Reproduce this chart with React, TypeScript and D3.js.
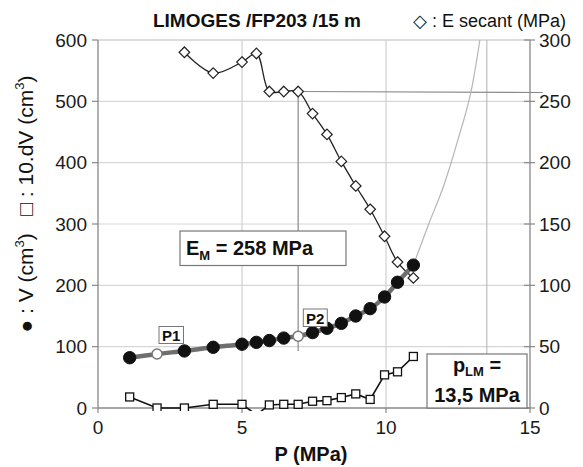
import React from "react";
import * as d3 from "d3";

const P = [1.1, 2.05, 3.0, 4.0, 5.0, 5.5, 5.95, 6.45, 6.95, 7.45, 7.95, 8.45, 8.95, 9.45, 9.95, 10.4, 10.95];
const V = [82, 88, 93, 99, 104, 107, 110, 114, 117, 123, 130, 138, 150, 162, 181, 205, 233];
const DV10 = [18, 0, 0, 6, 6, -11, 5, 6, 6, 11, 12, 17, 23, 14, 54, 59, 84];
const P_E = [3.0, 4.0, 5.0, 5.5, 5.95, 6.45, 6.95, 7.45, 7.95, 8.45, 8.95, 9.45, 9.95, 10.4, 10.95];
const E_SEC = [290, 273, 282, 289, 258, 258, 258, 240, 223, 201, 181, 162, 140, 119, 106];
const FIT_P = [10.95, 11.5, 12.0, 12.5, 13.0, 13.26];
const FIT_V = [233, 302, 362, 438, 527, 600];
const HOLLOW_P = [2.05, 6.95];
const X_TICKS = [0, 5, 10, 15];
const YL_TICKS = [0, 100, 200, 300, 400, 500, 600];
const YR_TICKS = [0, 50, 100, 150, 200, 250, 300];
const E_M = 258;
const P_EM = 6.95;
const P_LM = 13.5;

const W = 583;
const H = 467;
const FONT = "'Liberation Sans', Arial, sans-serif";

export default function App() {
  const x = d3.scaleLinear().domain([0, 15]).range([98, 530]);
  const yL = d3.scaleLinear().domain([0, 600]).range([408, 40]);
  const yR = d3.scaleLinear().domain([0, 300]).range([408, 40]);

  const vPts = P.map((p, i) => [p, V[i]] as [number, number]);
  const dvPts = P.map((p, i) => [p, DV10[i]] as [number, number]);
  const ePts = P_E.map((p, i) => [p, E_SEC[i]] as [number, number]);
  const fitPts = FIT_P.map((p, i) => [p, FIT_V[i]] as [number, number]);

  const lineL = d3.line<[number, number]>().x((d) => x(d[0])).y((d) => yL(d[1]));
  const vLine = d3.line<[number, number]>().x((d) => x(d[0])).y((d) => yL(d[1])).curve(d3.curveMonotoneX);
  const fitLine = d3.line<[number, number]>().x((d) => x(d[0])).y((d) => yL(d[1])).curve(d3.curveMonotoneX);
  const eLine = d3.line<[number, number]>().x((d) => x(d[0])).y((d) => yR(d[1])).curve(d3.curveCatmullRom.alpha(0.5));

  const x0 = x(0), x1 = x(15), y0 = yL(0), y1 = yL(600);

  return (
    <svg width={W} height={H} style={{ position: "absolute", left: 0, top: 0, background: "#fff" }} fontFamily={FONT}>
      <defs>
        <clipPath id="plot">
          <rect x={x0} y={y1 - 1} width={x1 - x0 + 20} height={y0 - y1 + 4} />
        </clipPath>
      </defs>
      <rect width={W} height={H} fill="#fff" />
      {/* gridlines */}
      {YL_TICKS.filter((t) => t > 0).map((t) => (
        <line key={"gy" + t} x1={x0} x2={x1} y1={yL(t)} y2={yL(t)} stroke={t === 600 ? "#bbb" : "#d6d6d6"} strokeWidth={1.2} />
      ))}
      {X_TICKS.filter((t) => t > 0 && t < 15).map((t) => (
        <line key={"gx" + t} x1={x(t)} x2={x(t)} y1={y0} y2={y1} stroke="#d0d0d0" strokeWidth={1.2} />
      ))}
      {/* pLM line */}
      <line x1={x(P_LM)} x2={x(P_LM)} y1={y0} y2={y1} stroke="#bdbdbd" strokeWidth={1.2} />
      {/* EM reference lines */}
      <line x1={x(P_EM)} x2={x(P_EM)} y1={yR(E_M)} y2={yL(93)} stroke="#8a8a8a" strokeWidth={1.2} />
      <line x1={x(P_EM)} x2={x(15.45)} y1={yR(E_M)} y2={yR(E_M) + 1} stroke="#8a8a8a" strokeWidth={1.2} />

      {/* axes */}
      <line x1={x0} x2={x0} y1={y1} y2={y0} stroke="#888" strokeWidth={1.3} />
      <line x1={x1} x2={x1} y1={y1} y2={y0} stroke="#888" strokeWidth={1.3} />
      <line x1={x0} x2={x1} y1={y0} y2={y0} stroke="#888" strokeWidth={1.3} />
      {YL_TICKS.map((t) => (
        <g key={"yl" + t}>
          <line x1={x0 - 6} x2={x0} y1={yL(t)} y2={yL(t)} stroke="#888" strokeWidth={1.2} />
          <text x={x0 - 11} y={yL(t)} dy="0.35em" textAnchor="end" fontSize={19} fill="#1a1a1a">{t}</text>
        </g>
      ))}
      {YR_TICKS.map((t) => (
        <g key={"yr" + t}>
          <line x1={x1 - 6} x2={x1 + 5} y1={yR(t)} y2={yR(t)} stroke="#888" strokeWidth={1.2} />
          <text x={x1 + 9} y={yR(t)} dy="0.35em" textAnchor="start" fontSize={19} fill="#1a1a1a">{t}</text>
        </g>
      ))}
      {X_TICKS.map((t) => (
        <g key={"xt" + t}>
          <line x1={x(t)} x2={x(t)} y1={y0} y2={y0 + 5} stroke="#888" strokeWidth={1.2} />
          <text x={x(t)} y={434} textAnchor="middle" fontSize={19} fill="#1a1a1a">{t}</text>
        </g>
      ))}

      {/* thin fit curve */}
      <path d={fitLine(fitPts) || ""} fill="none" stroke="#b5b5b5" strokeWidth={1.2} clipPath="url(#plot)" />

      {/* E secant */}
      <path d={eLine(ePts) || ""} fill="none" stroke="#222" strokeWidth={1.3} />
      {ePts.map((d, i) => {
        const cx = x(d[0]), cy = yR(d[1]), s = 5.3;
        return <path key={"e" + i} d={`M${cx},${cy - s}L${cx + s},${cy}L${cx},${cy + s}L${cx - s},${cy}Z`} fill="#fff" stroke="#222" strokeWidth={1.2} />;
      })}

      {/* 10 dV */}
      <g clipPath="url(#plot)">
        <path d={lineL(dvPts) || ""} fill="none" stroke="#111" strokeWidth={1.6} />
        {dvPts.filter((d) => d[1] >= 0).map((d, i) => (
          <rect key={"s" + i} x={x(d[0]) - 4} y={yL(d[1]) - 4} width={8} height={8} fill="#fff" stroke="#111" strokeWidth={1.3} />
        ))}
      </g>

      {/* V */}
      <path d={vLine(vPts) || ""} fill="none" stroke="#6e6e6e" strokeWidth={4.5} />
      {vPts.map((d, i) => {
        const hollow = HOLLOW_P.includes(d[0]);
        return (
          <circle key={"v" + i} cx={x(d[0])} cy={yL(d[1])} r={hollow ? 5 : 6.2} fill={hollow ? "#fff" : "#111"} stroke={hollow ? "#777" : "#111"} strokeWidth={hollow ? 1.5 : 1} />
        );
      })}

      {/* P1 / P2 labels */}
      <rect x={159} y={326.5} width={24.5} height={17} fill="#fff" stroke="#777" strokeWidth={1} />
      <text x={171.2} y={341} textAnchor="middle" fontSize={15} fontWeight="bold" fill="#111">P1</text>
      <rect x={303.3} y={309} width={24} height={17.5} fill="#fff" stroke="#777" strokeWidth={1} />
      <text x={315.3} y={323.5} textAnchor="middle" fontSize={15} fontWeight="bold" fill="#111">P2</text>

      {/* EM box */}
      <rect x={180} y={231} width={166} height={34.5} fill="#fff" stroke="#777" strokeWidth={1.2} />
      <text x={186} y={254.5} fontSize={20} fontWeight="bold" fill="#111">
        E<tspan fontSize={13} dy={5}>M</tspan><tspan dy={-5}> = 258 MPa</tspan>
      </text>

      {/* pLM box */}
      <rect x={427} y={354} width={100} height={54} fill="#fff" stroke="#777" strokeWidth={1.2} />
      <text x={477} y={372} textAnchor="middle" fontSize={20} fontWeight="bold" fill="#111">
        p<tspan fontSize={13} dy={4}>LM</tspan><tspan dy={-4}> =</tspan>
      </text>
      <text x={477} y={401.5} textAnchor="middle" fontSize={20} fontWeight="bold" fill="#111">13,5 MPa</text>

      {/* titles */}
      <text x={257} y={27} textAnchor="middle" fontSize={19} fontWeight="bold" fill="#111">LIMOGES /FP203 /15 m</text>
      <text x={566} y={27} textAnchor="end" fontSize={18} fill="#111">◇ : E secant (MPa)</text>
      <text x={311} y={461} textAnchor="middle" fontSize={20} fontWeight="bold" fill="#111">P (MPa)</text>
      <text transform="translate(33,204) rotate(-90)" textAnchor="middle" fontSize={21} fill="#111" style={{ whiteSpace: "pre" }}>
        {"● : V (cm"}<tspan fontSize={13} dy={-9}>3</tspan><tspan dy={9}>{")   □ : 10.dV (cm"}</tspan><tspan fontSize={13} dy={-9}>3</tspan><tspan dy={9}>)</tspan>
      </text>
    </svg>
  );
}
